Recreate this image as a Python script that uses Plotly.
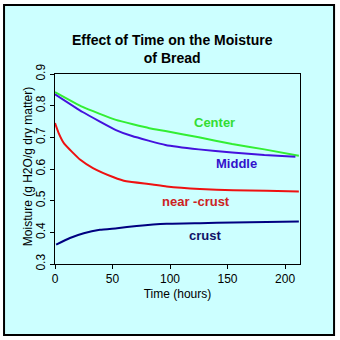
import plotly.graph_objects as go

center_t = [0, 24, 53, 82, 96, 125, 154, 182, 212]
center_m = [0.843, 0.796, 0.755, 0.729, 0.720, 0.700, 0.679, 0.662, 0.642]

middle_t = [0, 24, 53, 67, 96, 125, 154, 182, 209]
middle_m = [0.836, 0.780, 0.723, 0.704, 0.676, 0.662, 0.652, 0.644, 0.639]

near_t = [0, 3, 8, 22, 33, 51, 62, 83, 97, 126, 155, 184, 212]
near_m = [0.745, 0.715, 0.680, 0.629, 0.603, 0.574, 0.561, 0.552, 0.545, 0.537, 0.533, 0.531, 0.529]

crust_t = [1, 13, 25, 39, 54, 71, 97, 126, 155, 184, 212]
crust_m = [0.361, 0.382, 0.397, 0.408, 0.413, 0.420, 0.427, 0.429, 0.431, 0.433, 0.434]

labels = ["Center", "Middle", "near -crust", "crust"]
label_x = [139, 158, 123, 130]
label_y = [0.748, 0.618, 0.497, 0.390]
label_colors = ["#33DD33", "#3311CC", "#CC2222", "#111166"]
line_colors = ["#33EE33", "#4411DD", "#EE1111", "#000080"]

FONT = "Liberation Sans, Arial, sans-serif"

fig = go.Figure()
series = [(center_t, center_m), (middle_t, middle_m), (near_t, near_m), (crust_t, crust_m)]
for (t, m), c, name in zip(series, line_colors, labels):
    fig.add_trace(go.Scatter(x=t, y=m, mode="lines", name=name,
                             line=dict(color=c, width=2, shape="spline", smoothing=0.4),
                             showlegend=False, hoverinfo="skip"))

for txt, x, y, c in zip(labels, label_x, label_y, label_colors):
    fig.add_annotation(x=x, y=y, text="<b>%s</b>" % txt, showarrow=False,
                       font=dict(family=FONT, size=13, color=c))

fig.add_annotation(xref="paper", yref="paper", x=0.478, y=1.134,
                   xanchor="center", yanchor="middle",
                   text="<b>Effect of Time on the Moisture<br>of Bread</b>",
                   showarrow=False, font=dict(family=FONT, size=14, color="black"))

fig.add_annotation(xref="paper", yref="paper", x=-0.110, y=0.51,
                   xanchor="center", yanchor="middle", textangle=-90,
                   text="Moisture (g H2O/g dry matter)",
                   showarrow=False, font=dict(family=FONT, size=12, color="black"))

fig.add_shape(type="rect", xref="paper", yref="paper",
              x0=-0.208, x1=1.139, y0=-0.374, y1=1.363,
              fillcolor="#CCFFFF", line=dict(color="black", width=2), layer="below")

fig.update_layout(
    width=340, height=340,
    margin=dict(l=55, r=40, t=74, b=76),
    paper_bgcolor="white", plot_bgcolor="white",
    font=dict(family=FONT, size=12, color="black"),
    xaxis=dict(range=[0, 213], tickvals=[0, 50, 100, 150, 200], showgrid=False,
               zeroline=False, showline=True, linecolor="black", linewidth=1, mirror=True,
               ticks="outside", ticklen=4, tickcolor="black",
               title=dict(text="Time (hours)", font=dict(size=12), standoff=4)),
    yaxis=dict(range=[0.3, 0.9], tickvals=[0.3, 0.4, 0.5, 0.6, 0.7, 0.8, 0.9],
               ticktext=["0.3", "0.4", "0.5", "0.6", "0.7", "0.8", "0.9"],
               tickangle=-90, showgrid=False, zeroline=False, showline=True,
               linecolor="black", linewidth=1, mirror=True,
               ticks="outside", ticklen=4, tickcolor="black"),
)

fig.write_html("out.html")
